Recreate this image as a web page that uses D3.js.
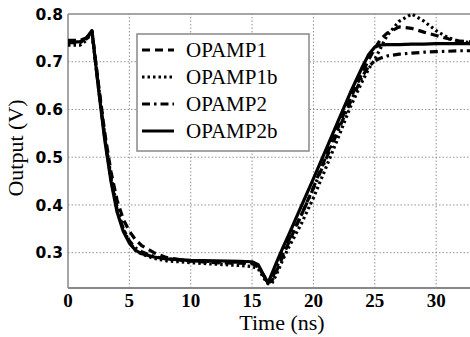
<!DOCTYPE html>
<html>
<head>
<meta charset="utf-8">
<script src="https://cdn.jsdelivr.net/npm/d3@7"></script>
<style>
  body { margin: 0; background: #fff; }
  svg { display: block; }
</style>
</head>
<body>
<div class="chart"></div>
<script>
const width = 470;
const height = 337;
const margin = { top: 14, right: -3, bottom: 49, left: 68 };

// time axis (ns), shared by all series
const times = [0, 1, 1.5, 1.95, 2.5, 3, 3.5, 4, 4.5, 5, 5.5, 6, 7, 8, 10, 12, 14, 15, 15.5, 16, 16.3, 16.6, 17, 17.5, 18, 19, 20, 21, 22, 23, 24, 24.5, 25, 25.5, 26, 27, 28, 29, 30, 31, 32, 33];

const opamp1 = [0.745, 0.745, 0.75, 0.765, 0.65, 0.55, 0.47, 0.41, 0.37, 0.345, 0.327, 0.315, 0.3, 0.29, 0.282, 0.279, 0.278, 0.277, 0.27, 0.25, 0.238, 0.24, 0.262, 0.292, 0.322, 0.378, 0.437, 0.5, 0.562, 0.622, 0.678, 0.704, 0.728, 0.748, 0.76, 0.773, 0.77, 0.762, 0.755, 0.748, 0.743, 0.741];
const opamp1b = [0.735, 0.735, 0.745, 0.762, 0.645, 0.545, 0.46, 0.395, 0.35, 0.322, 0.305, 0.297, 0.288, 0.283, 0.279, 0.276, 0.273, 0.271, 0.266, 0.245, 0.235, 0.235, 0.255, 0.285, 0.312, 0.36, 0.415, 0.477, 0.54, 0.605, 0.66, 0.685, 0.705, 0.73, 0.755, 0.785, 0.8, 0.785, 0.765, 0.75, 0.742, 0.74];
const opamp2 = [0.74, 0.74, 0.748, 0.765, 0.642, 0.54, 0.455, 0.39, 0.35, 0.325, 0.31, 0.302, 0.292, 0.287, 0.283, 0.281, 0.28, 0.279, 0.272, 0.25, 0.236, 0.242, 0.27, 0.298, 0.327, 0.378, 0.435, 0.495, 0.555, 0.615, 0.67, 0.69, 0.702, 0.708, 0.712, 0.716, 0.718, 0.72, 0.721, 0.722, 0.723, 0.723];
const opamp2b = [0.74, 0.742, 0.75, 0.765, 0.64, 0.535, 0.45, 0.385, 0.345, 0.32, 0.305, 0.298, 0.291, 0.287, 0.284, 0.283, 0.282, 0.281, 0.275, 0.25, 0.236, 0.255, 0.28, 0.31, 0.338, 0.397, 0.455, 0.515, 0.575, 0.635, 0.69, 0.715, 0.731, 0.735, 0.736, 0.736, 0.737, 0.737, 0.738, 0.738, 0.738, 0.738];

const seriesNames = ["OPAMP1", "OPAMP1b", "OPAMP2", "OPAMP2b"];
const seriesValues = [opamp1, opamp1b, opamp2, opamp2b];
const dashes = ["8,5", "2.5,3", "8,4,2.5,4", null];

const xTicks = [0, 5, 10, 15, 20, 25, 30];
const yTicks = [0.3, 0.4, 0.5, 0.6, 0.7, 0.8];

const x = d3.scaleLinear()
    .domain([0, 33])
    .range([margin.left, width - margin.right]);

const y = d3.scaleLinear()
    .domain([0.226, 0.8])
    .range([height - margin.bottom, margin.top]);

const svg = d3.select("div.chart")
    .append("svg")
    .attr("width", width)
    .attr("height", height);

svg.append("clipPath").attr("id", "plot")
  .append("rect")
    .attr("x", margin.left)
    .attr("y", margin.top - 3)
    .attr("width", width - margin.left - margin.right)
    .attr("height", height - margin.top - margin.bottom + 3);

// grid
const grid = svg.append("g")
    .attr("stroke", "#777")
    .attr("stroke-width", 0.8)
    .attr("stroke-dasharray", "1.5,2");
grid.selectAll("line.v")
  .data(xTicks.filter(d => d > 0))
  .join("line")
    .attr("x1", d => x(d)).attr("x2", d => x(d))
    .attr("y1", y.range()[0]).attr("y2", y.range()[1]);
grid.selectAll("line.h")
  .data(yTicks.filter(d => d < 0.8))
  .join("line")
    .attr("y1", d => y(d)).attr("y2", d => y(d))
    .attr("x1", x.range()[0]).attr("x2", x.range()[1]);

// frame
const frame = svg.append("g").attr("stroke", "#888").attr("fill", "none");
frame.append("line")
    .attr("x1", x.range()[0]).attr("x2", x.range()[1])
    .attr("y1", y(0.8)).attr("y2", y(0.8)).attr("stroke-width", 1.5);
frame.append("line")
    .attr("x1", x.range()[0]).attr("x2", x.range()[1])
    .attr("y1", y.range()[0]).attr("y2", y.range()[0]).attr("stroke-width", 2);
frame.append("line")
    .attr("x1", x.range()[0]).attr("x2", x.range()[0])
    .attr("y1", y.range()[0]).attr("y2", y.range()[1]).attr("stroke-width", 1.5);

// axes labels
svg.append("g")
    .attr("font-family", "'DejaVu Sans', sans-serif")
    .attr("font-weight", "bold")
    .attr("font-size", 15.5)
    .attr("text-anchor", "end")
  .selectAll("text")
  .data(yTicks)
  .join("text")
    .attr("x", margin.left - 5)
    .attr("y", d => y(d))
    .attr("dy", "0.36em")
    .text(d => d3.format(".1f")(d));

svg.append("g")
    .attr("font-family", "'Liberation Serif', 'Times New Roman', serif")
    .attr("font-weight", "bold")
    .attr("font-size", 19)
    .attr("text-anchor", "middle")
  .selectAll("text")
  .data(xTicks)
  .join("text")
    .attr("x", d => x(d))
    .attr("y", 307)
    .text(d => d);

svg.append("text")
    .attr("font-family", "'Liberation Serif', 'Times New Roman', serif")
    .attr("font-size", 22)
    .attr("text-anchor", "middle")
    .attr("x", 282)
    .attr("y", 330)
    .text("Time (ns)");

svg.append("text")
    .attr("font-family", "'Liberation Serif', 'Times New Roman', serif")
    .attr("font-size", 22)
    .attr("text-anchor", "middle")
    .attr("transform", "translate(23,148) rotate(-90)")
    .text("Output (V)");

// curves
const line = d3.line()
    .x((d, i) => x(times[i]))
    .y(d => y(d));

svg.append("g")
    .attr("clip-path", "url(#plot)")
  .selectAll("path")
  .data(seriesValues)
  .join("path")
    .attr("fill", "none")
    .attr("stroke", "#000")
    .attr("stroke-width", 3.2)
    .attr("stroke-linejoin", "round")
    .attr("stroke-dasharray", (d, i) => dashes[i])
    .attr("d", line);

// legend
const legend = svg.append("g");
legend.append("rect")
    .attr("x", 137).attr("y", 34)
    .attr("width", 172).attr("height", 117)
    .attr("fill", "#fff")
    .attr("stroke", "#888")
    .attr("stroke-width", 1.5);

const rows = legend.selectAll("g.row")
  .data(seriesNames)
  .join("g")
    .attr("class", "row")
    .attr("transform", (d, i) => `translate(0,${50 + i * 27})`);

rows.append("line")
    .attr("x1", 142).attr("x2", 174)
    .attr("stroke", "#000")
    .attr("stroke-width", 3)
    .attr("stroke-dasharray", (d, i) => dashes[i]);

rows.append("text")
    .attr("x", 186)
    .attr("dy", "0.35em")
    .attr("font-family", "'Liberation Serif', 'Times New Roman', serif")
    .attr("font-size", 21)
    .text(d => d);
</script>
</body>
</html>
